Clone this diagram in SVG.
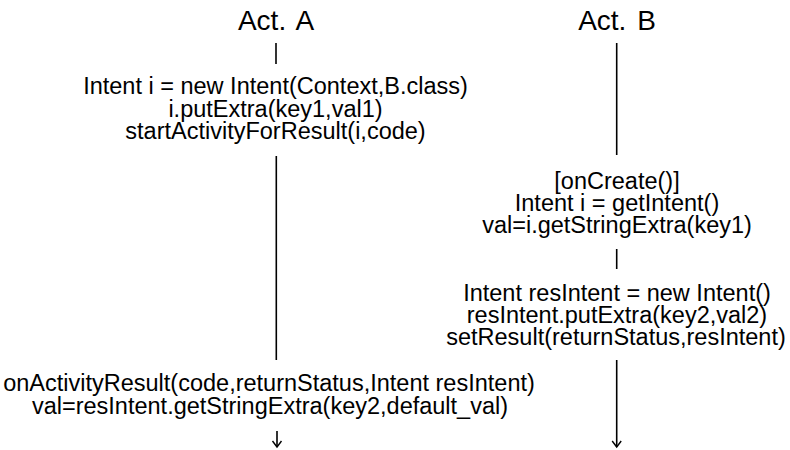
<svg xmlns="http://www.w3.org/2000/svg" width="790" height="450" viewBox="0 0 790 450">
<defs>
<style>
text{font-family:"Liberation Sans",Arial,sans-serif;fill:#000;text-anchor:middle}
.t{font-size:28px;word-spacing:3px}
.c{font-size:23.5px}
.ln{stroke:#000;stroke-width:1.6;fill:none}
</style>
<marker id="ah" viewBox="-8 -6 10 12" refX="0" refY="0" markerWidth="10" markerHeight="12" markerUnits="userSpaceOnUse" orient="auto">
<path d="M-6,-4.5 Q-2,-1.5 0,0 Q-2,1.5 -6,4.5" fill="none" stroke="#000" stroke-width="1.4"/>
</marker>
</defs>
<rect width="790" height="450" fill="#fff"/>
<g id="actA">
<text class="t" x="276" y="30">Act. A</text>
</g>
<g id="actB">
<text class="t" x="617" y="30">Act. B</text>
</g>
<g id="startA">
<text class="c" x="275.5" y="94">Intent i = new Intent(Context,B.class)</text>
<text class="c" x="275.5" y="116.5">i.putExtra(key1,val1)</text>
<text class="c" x="275.5" y="139">startActivityForResult(i,code)</text>
</g>
<g id="onCreateB">
<text class="c" x="617" y="188.5">[onCreate()]</text>
<text class="c" x="617" y="210.5">Intent i = getIntent()</text>
<text class="c" x="617" y="232.5">val=i.getStringExtra(key1)</text>
</g>
<g id="resultB">
<text class="c" x="617" y="301">Intent resIntent = new Intent()</text>
<text class="c" x="617" y="323">resIntent.putExtra(key2,val2)</text>
<text class="c" x="616" y="345">setResult(returnStatus,resIntent)</text>
</g>
<g id="onResultA">
<text class="c" x="269" y="391">onActivityResult(code,returnStatus,Intent resIntent)</text>
<text class="c" x="270" y="413.5">val=resIntent.getStringExtra(key2,default_val)</text>
</g>
<g id="connectors">
<line class="ln" x1="276" y1="43" x2="276" y2="64"/>
<line class="ln" x1="276.3" y1="156" x2="276.3" y2="360"/>
<line class="ln" x1="277" y1="431" x2="277" y2="447" marker-end="url(#ah)"/>
<line class="ln" x1="616.7" y1="43" x2="616.7" y2="155"/>
<line class="ln" x1="616.7" y1="249" x2="616.7" y2="269"/>
<line class="ln" x1="616.7" y1="360" x2="616.7" y2="447" marker-end="url(#ah)"/>
</g>
</svg>
